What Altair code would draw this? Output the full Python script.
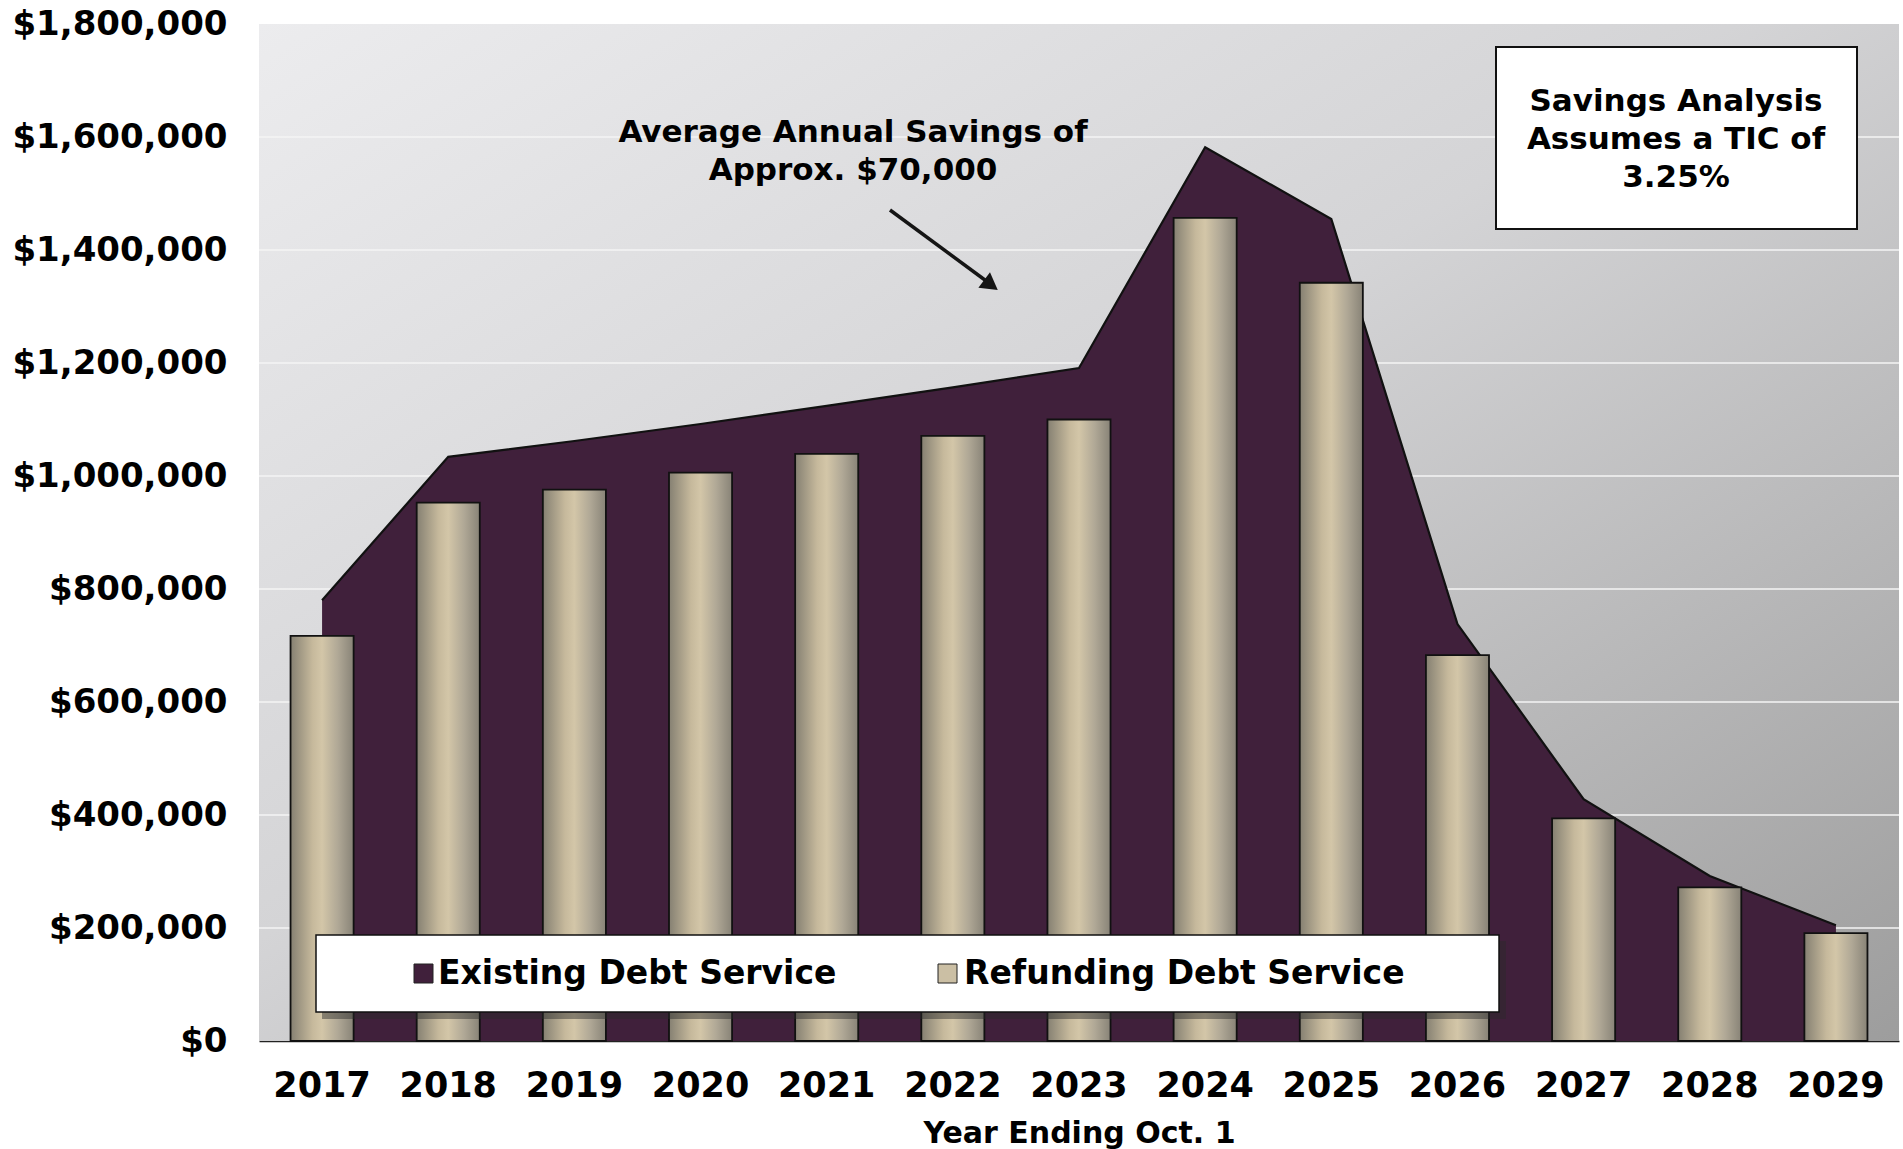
import altair as alt
import pandas as pd

# ---- data ----
years = ["2017", "2018", "2019", "2020", "2021", "2022", "2023",
         "2024", "2025", "2026", "2027", "2028", "2029"]
existing = [780000, 1034000, 1062000, 1092000, 1124000, 1157000, 1191000,
            1582000, 1455000, 738000, 428000, 292000, 205000]
refunding = [717000, 953000, 976000, 1006000, 1039000, 1071000, 1100000,
             1457000, 1342000, 683000, 394000, 272000, 191000]
y_ticks = [0, 200000, 400000, 600000, 800000, 1000000, 1200000,
           1400000, 1600000, 1800000]
grid_vals = [200000, 400000, 600000, 800000, 1000000, 1200000, 1400000, 1600000]
legend_labels = ["Existing Debt Service", "Refunding Debt Service"]
annotation_lines = ["Average Annual Savings of", "Approx. $70,000"]
box_lines = ["Savings Analysis", "Assumes a TIC of", "3.25%"]

df = pd.DataFrame({"Year": years, "Existing": existing, "Refunding": refunding})
one = pd.DataFrame({"k": [0]})

W, H = 1640, 1017
FONT = "DejaVu Sans"
PURPLE = "#40203b"

xscale = alt.Scale(domain=years, paddingInner=0, paddingOuter=0)
yscale = alt.Scale(domain=[0, 1800000], nice=False)

x_axis = alt.Axis(labelAngle=0, labelFont=FONT, labelFontWeight="bold",
                  labelFontSize=35, labelColor="black", labelPadding=27,
                  ticks=False, domain=True, domainColor="#222222", domainWidth=1.5,
                  title="Year Ending Oct. 1", titleFont=FONT, titleFontWeight="bold",
                  titleFontSize=30, titleColor="black", titlePadding=15, grid=False)
y_axis = alt.Axis(values=y_ticks, format="$,.0f", labelFont=FONT,
                  labelFontWeight="bold", labelFontSize=34, labelColor="black",
                  labelPadding=32, labelLimit=400, ticks=False, domain=False, grid=False,
                  title=None, minExtent=254, maxExtent=254)

X = alt.X("Year:N", scale=xscale, axis=x_axis, sort=years)
Y_area = alt.Y("Existing:Q", scale=yscale, axis=y_axis)
Y_bar = alt.Y("Refunding:Q", scale=yscale, axis=y_axis)

bg = alt.Chart(one).mark_rect(
    fill=alt.LinearGradient(gradient="linear", x1=0, y1=0, x2=1, y2=1,
                            stops=[alt.GradientStop(color="#ececee", offset=0),
                                   alt.GradientStop(color="#d4d4d6", offset=0.45),
                                   alt.GradientStop(color="#9d9d9d", offset=1)])
).encode(x=alt.value(0), x2=alt.value(W), y=alt.value(0), y2=alt.value(H))

grid = alt.Chart(pd.DataFrame({"v": grid_vals})).mark_rule(
    color="#f4f4f4", strokeWidth=1.5
).encode(y=alt.Y("v:Q", scale=yscale, axis=y_axis), x=alt.value(0), x2=alt.value(W))

area = alt.Chart(df).mark_area(fill=PURPLE, opacity=1).encode(x=X, y=Y_area)
line = alt.Chart(df).mark_line(color="#111111", strokeWidth=2.2).encode(x=X, y=Y_area)

bars = alt.Chart(df).mark_bar(
    width={"band": 0.5},
    fill=alt.LinearGradient(gradient="linear", x1=0, y1=0, x2=1, y2=0,
                            stops=[alt.GradientStop(color="#858072", offset=0),
                                   alt.GradientStop(color="#c6b99c", offset=0.35),
                                   alt.GradientStop(color="#d3c6a8", offset=0.5),
                                   alt.GradientStop(color="#b0a896", offset=0.75),
                                   alt.GradientStop(color="#888377", offset=1)]),
    stroke="#111111", strokeWidth=1.8
).encode(x=X, y=Y_bar)

# ---- legend box (manual) ----
leg_shadow = alt.Chart(one).mark_rect(fill="#2a2a2a", opacity=0.45).encode(
    x=alt.value(63), x2=alt.value(1247), y=alt.value(917), y2=alt.value(995))
leg_box = alt.Chart(one).mark_rect(fill="white", stroke="#111111", strokeWidth=1.5).encode(
    x=alt.value(57), x2=alt.value(1240), y=alt.value(911), y2=alt.value(988))
leg_sq1 = alt.Chart(one).mark_rect(fill=PURPLE, stroke="#222222", strokeWidth=1).encode(
    x=alt.value(155), x2=alt.value(174), y=alt.value(940), y2=alt.value(959))
leg_sq2 = alt.Chart(one).mark_rect(fill="#cbbfa4", stroke="#222222", strokeWidth=1).encode(
    x=alt.value(679), x2=alt.value(698), y=alt.value(940), y2=alt.value(959))
leg_t1 = alt.Chart(one).mark_text(text=legend_labels[0], font=FONT, fontWeight="bold",
                                  fontSize=33, align="left", baseline="middle",
                                  color="black").encode(x=alt.value(179), y=alt.value(950))
leg_t2 = alt.Chart(one).mark_text(text=legend_labels[1], font=FONT, fontWeight="bold",
                                  fontSize=33, align="left", baseline="middle",
                                  color="black").encode(x=alt.value(705), y=alt.value(950))

# ---- TIC box ----
tic_box = alt.Chart(one).mark_rect(fill="white", stroke="#111111", strokeWidth=2).encode(
    x=alt.value(1237), x2=alt.value(1598), y=alt.value(23), y2=alt.value(205))
tic_text = alt.Chart(one).mark_text(text=box_lines, font=FONT, fontWeight="bold",
                                    fontSize=31, align="center", baseline="middle",
                                    lineHeight=38, color="black").encode(
    x=alt.value(1417), y=alt.value(78))

# ---- annotation ----
ann_text = alt.Chart(one).mark_text(text=annotation_lines, font=FONT, fontWeight="bold",
                                    fontSize=31, align="center", baseline="middle",
                                    lineHeight=38, color="black").encode(
    x=alt.value(594), y=alt.value(109))
arrow_line = alt.Chart(one).mark_rule(color="#151515", strokeWidth=3.5).encode(
    x=alt.value(631), y=alt.value(186), x2=alt.value(730), y2=alt.value(259))
arrow_head = alt.Chart(one).mark_point(shape="triangle-right", filled=True, size=380,
                                       angle=36.5, color="#151515", opacity=1).encode(
    x=alt.value(732), y=alt.value(261))

chart = alt.layer(
    bg, grid, area, line, bars,
    leg_shadow, leg_box, leg_sq1, leg_sq2, leg_t1, leg_t2,
    tic_box, tic_text, ann_text, arrow_line, arrow_head
).properties(
    width=W, height=H,
    padding={"left": 5, "top": 7, "right": 2, "bottom": 2},
    background="white"
).configure_view(stroke=None)

chart.save("out.html", embed_options={"renderer": "svg", "actions": False})
